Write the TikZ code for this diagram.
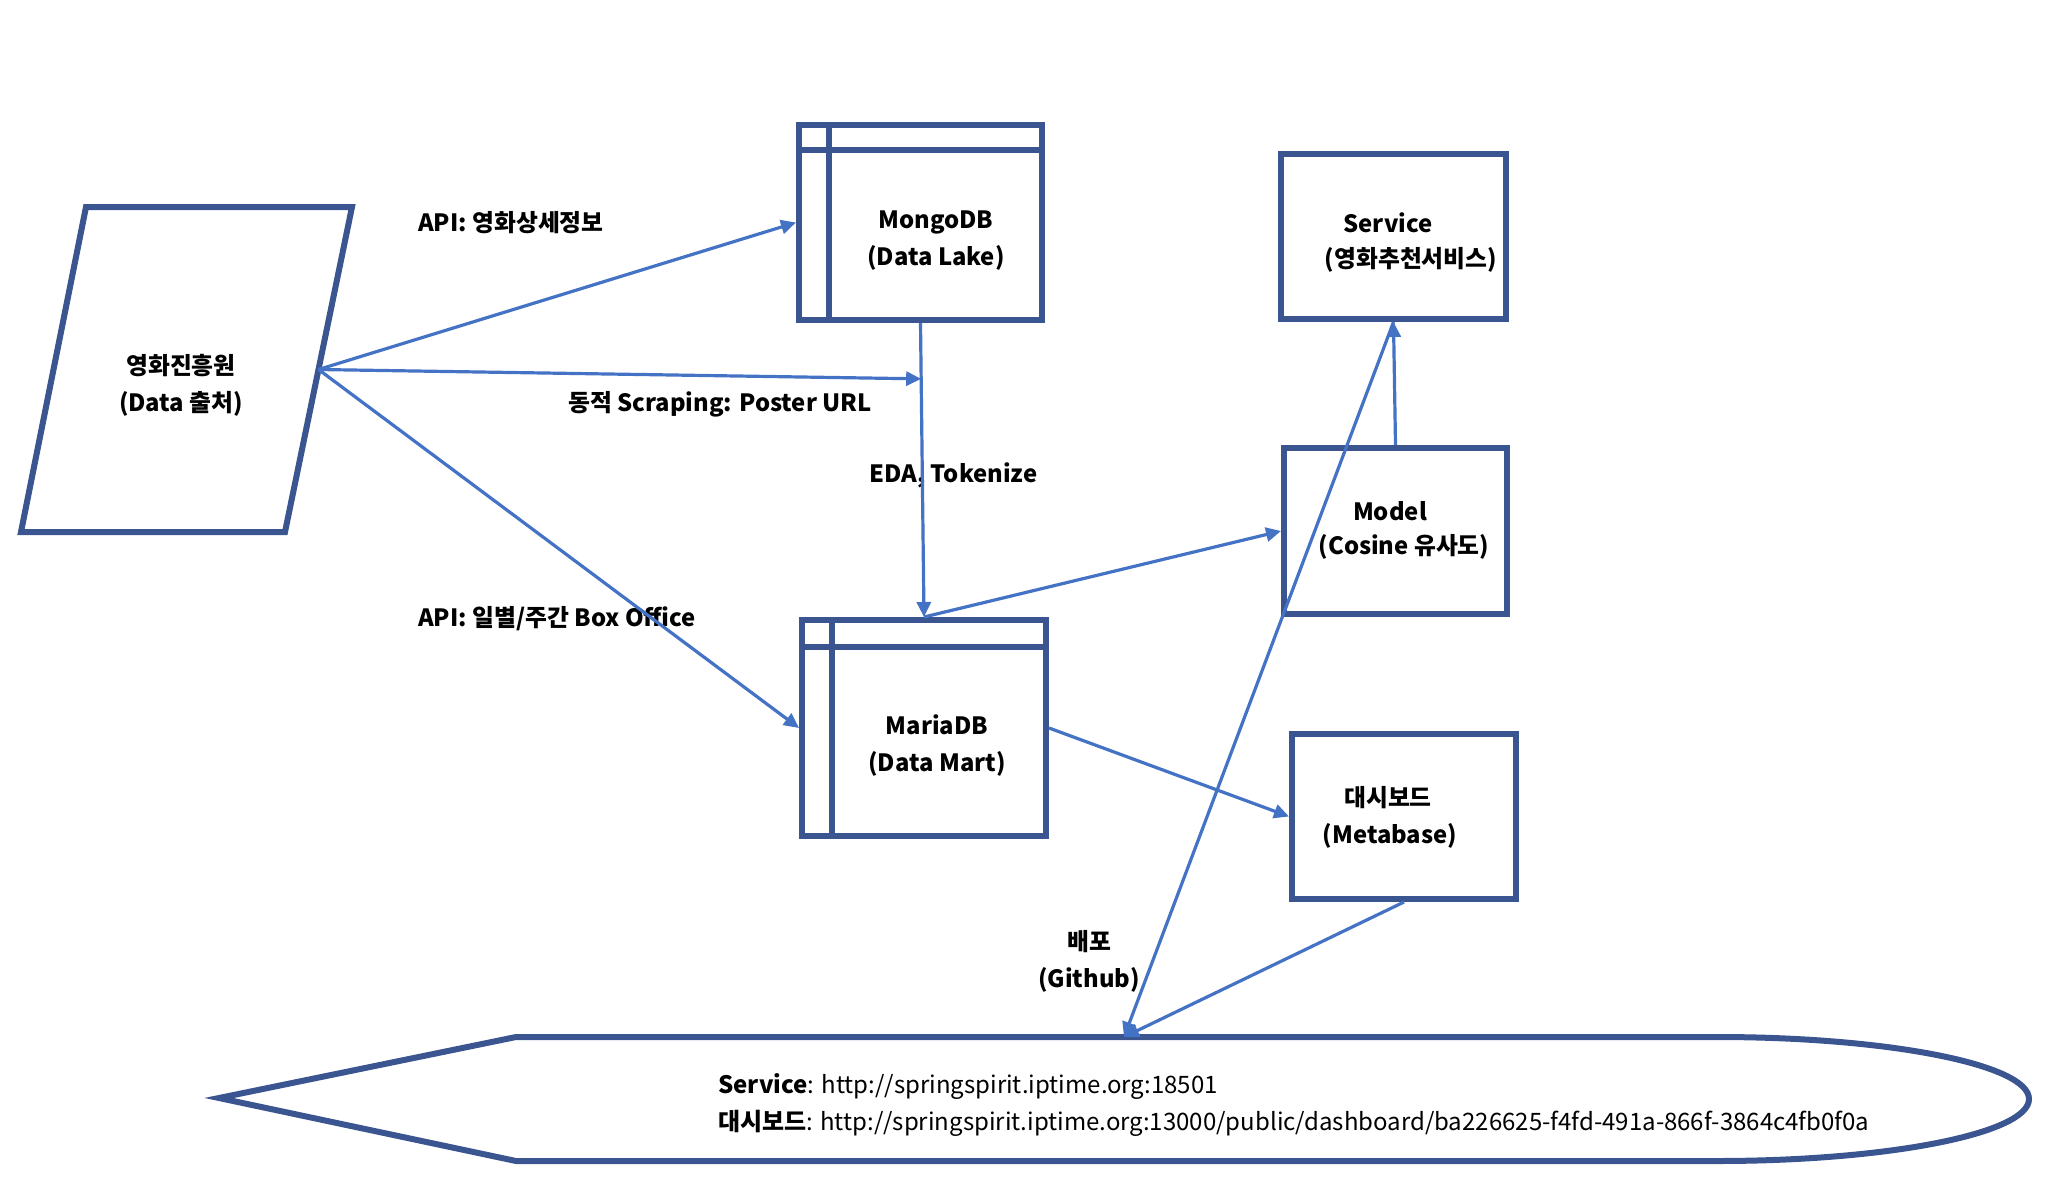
\documentclass[tikz,border=0pt]{standalone}
\usepackage{fontspec}
\setmainfont{Noto Sans CJK KR}
\usetikzlibrary{arrows.meta,calc}
\definecolor{boxblue}{HTML}{3A5590}
\definecolor{lineblue}{HTML}{4472C4}
\tikzset{
  x=1pt,y=1pt,
  shapeline/.style={draw=boxblue,line width=6pt},
  boxnode/.style={shapeline,rectangle,inner sep=0pt},
  conn/.style={draw=lineblue,line width=3.2pt,-{Triangle[length=15pt,width=14pt]}},
  lbl/.style={font=\fontsize{23.8}{37}\selectfont\bfseries,inner sep=0pt},
  url/.style={font=\fontsize{24}{36}\selectfont,inner sep=0pt,anchor=west},
}
\begin{document}
\begin{tikzpicture}
\useasboundingbox (0,0) rectangle (2048,-1194);
% source parallelogram
\coordinate (p1) at (86,-207);
\coordinate (p2) at (352,-207);
\coordinate (p3) at (285,-532);
\coordinate (p4) at (21,-532);
\draw[shapeline] (p1) -- (p2) -- (p3) -- (p4) -- cycle;
\coordinate (src) at ($(p2)!0.5!(p3)$);
\node[lbl,align=center] (srctext) at (181,-385) {영화진흥원\\(Data 출처)};
% MongoDB
\node[boxnode,minimum width=243pt,minimum height=195pt] (mongo) at (920.5,-222.5) {};
\draw[shapeline,line width=5.5pt] (829,-125) -- (829,-320);
\draw[shapeline,line width=5.5pt] (799,-150) -- (1042,-150);
\node[lbl,align=center] (mongotext) at (936,-241) {MongoDB\\(Data Lake)};
% MariaDB
\node[boxnode,minimum width=244pt,minimum height=216pt] (maria) at (924,-728) {};
\draw[shapeline,line width=5.5pt] (832,-620) -- (832,-836);
\draw[shapeline,line width=5.5pt] (802,-647) -- (1046,-647);
\node[lbl,align=center] (mariatext) at (937,-745.5) {MariaDB\\(Data Mart)};
% Service
\node[boxnode,minimum width=225pt,minimum height=165pt] (service) at (1393.5,-236.5) {};
\node[lbl] (servicet1) at (1388,-223) {Service};
\node[lbl] (servicet2) at (1411,-260) {(영화추천서비스)};
% Model
\node[boxnode,minimum width=223pt,minimum height=166pt] (model) at (1395.5,-531) {};
\node[lbl] (modelt1) at (1390,-511) {Model};
\node[lbl] (modelt2) at (1404,-547) {(Cosine 유사도)};
% Dashboard
\node[boxnode,minimum width=224pt,minimum height=165pt] (dash) at (1404,-816.5) {};
\node[lbl] (dasht1) at (1388,-798) {대시보드};
\node[lbl] (dasht2) at (1390,-836) {(Metabase)};
% display shape
\coordinate (d0) at (219,-1098);
\coordinate (d1) at (516,-1037);
\coordinate (d2) at (1717,-1037);
\coordinate (d4) at (516,-1161);
\draw[shapeline] (d0) -- (d1) -- (d2) arc[start angle=90,end angle=-90,x radius=312,y radius=62] -- (d4) -- cycle;
\coordinate (deploy) at (1124,-1037);
\node[url] (u1) at (718,-1087) {\textbf{Service}: http://springspirit.iptime.org:18501};
\node[url] (u2) at (718,-1123) {\textbf{대시보드}: http://springspirit.iptime.org:13000/public/dashboard/ba226625-f4fd-491a-866f-3864c4fb0f0a};
% edge labels
\node[lbl,anchor=west] (l1) at (418,-223) {API: 영화상세정보};
\node[lbl,anchor=west] (l2) at (568,-404) {동적 Scraping: Poster URL};
\node[lbl,anchor=west] (l3) at (869,-475) {EDA, Tokenize};
\node[lbl,anchor=west] (l4) at (418,-619) {API: 일별/주간 Box Office};
\node[lbl,align=center] (l5) at (1089,-961) {배포\\(Github)};
% connectors
\coordinate (mid) at ($(mongo.south)!0.19!(maria.north)$);
\draw[conn] (src) -- (mongo.west);
\draw[conn] (src) -- (mid);
\draw[conn] (src) -- (maria.west);
\draw[conn] (mongo.south) -- (maria.north);
\draw[conn] (maria.north) -- (model.west);
\draw[conn] (model.north) -- (service.south);
\draw[conn] (service.south) -- (deploy);
\draw[conn] (maria.east) -- (dash.west);
\draw[conn] (dash.south) -- (deploy);
\end{tikzpicture}
\end{document}
